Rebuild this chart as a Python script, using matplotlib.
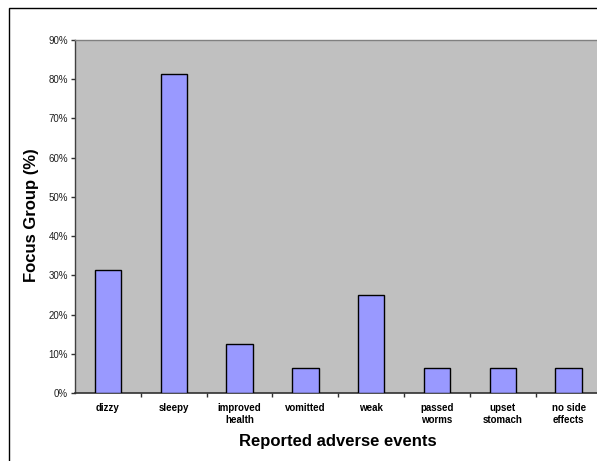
import matplotlib
matplotlib.use("Agg")
import matplotlib.pyplot as plt
from matplotlib.patches import Rectangle

categories = ["dizzy", "sleepy", "improved\nhealth", "vomitted", "weak",
              "passed\nworms", "upset\nstomach", "no side\neffects"]
values = [31.25, 81.25, 12.5, 6.25, 25.0, 6.25, 6.25, 6.25]
yticks = [0, 10, 20, 30, 40, 50, 60, 70, 80, 90]

W, H = 597, 461
fig = plt.figure(figsize=(W / 100, H / 100), dpi=100)
plt.rcParams['font.family'] = ['Liberation Sans', 'DejaVu Sans']

# outer chart border (cropped at right/bottom)
fig.patches.append(Rectangle((9 / W, -0.1), 1.2, 1.1 - 8.5 / H,
                             transform=fig.transFigure, fill=False,
                             edgecolor='black', linewidth=1.0, clip_on=False))

left, right, top, bottom = 75, 601.5, 40, 393
ax = fig.add_axes([left / W, 1 - bottom / H, (right - left) / W, (bottom - top) / H])
ax.set_facecolor('#C0C0C0')

x = list(range(len(categories)))
ax.bar(x, values, width=0.4, color='#9999FF', edgecolor='black', linewidth=1.0, zorder=3)

ax.set_xlim(-0.5, len(categories) - 0.5)
ax.set_ylim(0, 90)
ax.set_yticks(yticks)
ax.set_yticklabels([f"{v}%" for v in yticks], fontsize=7, color='#202020')
ax.set_xticks([i - 0.5 for i in range(1, len(categories))])
ax.set_xticklabels([])
ax.set_xticks(x, minor=True)
ax.set_xticklabels(categories, minor=True, fontsize=7, fontweight='bold', linespacing=1.3)
ax.tick_params(axis='x', which='minor', length=0, pad=7)
ax.tick_params(axis='x', which='major', length=3, direction='out', width=1, color='#303030')
ax.tick_params(axis='y', length=3, direction='out', width=1, color='#303030', pad=2)

for s in ['top', 'right']:
    ax.spines[s].set_color('#808080')
    ax.spines[s].set_linewidth(1)
ax.spines['left'].set_color('#404040')
ax.spines['bottom'].set_color('#303030')
ax.spines['left'].set_linewidth(1)
ax.spines['bottom'].set_linewidth(1.2)

fig.text(238 / W + (437 - 238) / 2 / W, 1 - 441 / H, "Reported adverse events",
         ha='center', va='center', fontsize=12, fontweight='bold')
fig.text(32 / W, 1 - 215 / H, "Focus Group (%)", rotation=90,
         ha='center', va='center', fontsize=12, fontweight='bold')

fig.savefig("out.png", dpi=100)
